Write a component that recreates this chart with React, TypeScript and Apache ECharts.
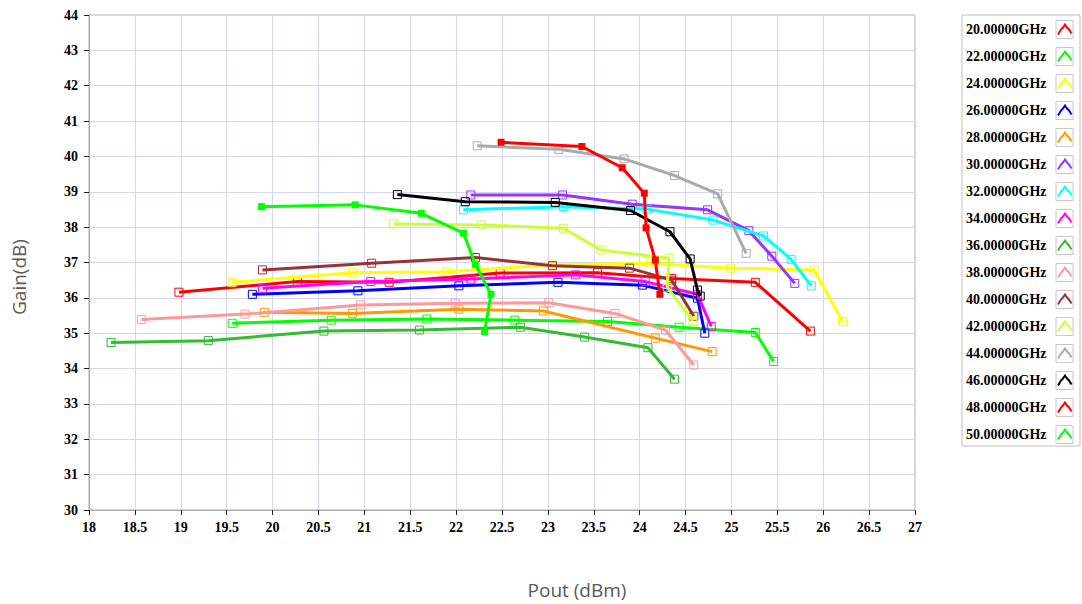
import React, { useEffect, useRef } from "react";
import * as echarts from "echarts";

const freqLabels = [
  "20.00000GHz", "22.00000GHz", "24.00000GHz", "26.00000GHz",
  "28.00000GHz", "30.00000GHz", "32.00000GHz", "34.00000GHz",
  "36.00000GHz", "38.00000GHz", "40.00000GHz", "42.00000GHz",
  "44.00000GHz", "46.00000GHz", "48.00000GHz", "50.00000GHz",
];
const colors = [
  "#ff0000", "#00ff00", "#ffff00", "#0000ff",
  "#ff9900", "#9933ff", "#00ffff", "#ff00ff",
  "#33bb33", "#ff9999", "#993333", "#ccff33",
  "#aaaaaa", "#000000", "#ff0000", "#00ff00",
];
const filled = [false, false, false, false, false, false, false, false, false, false, false, false, false, false, true, true];

const pout20 = [18.98, 20.27, 21.27, 22.48, 23.54, 24.35, 25.26, 25.86];
const gain20 = [36.16, 36.46, 36.44, 36.70, 36.71, 36.55, 36.44, 35.06];
const pout22 = [19.56, 20.64, 21.68, 22.64, 23.65, 24.43, 25.26, 25.46];
const gain22 = [35.28, 35.37, 35.40, 35.37, 35.33, 35.17, 35.02, 34.20];
const pout24 = [19.56, 20.87, 21.90, 23.05, 24.12, 24.99, 25.90, 26.21];
const gain24 = [36.44, 36.71, 36.74, 36.93, 36.98, 36.84, 36.79, 35.33];
const pout26 = [19.78, 20.93, 22.03, 23.11, 24.03, 24.63, 24.71];
const gain26 = [36.10, 36.20, 36.34, 36.44, 36.36, 35.99, 35.00];
const pout28 = [19.91, 20.87, 22.03, 22.95, 24.17, 24.79];
const gain28 = [35.59, 35.56, 35.68, 35.63, 34.86, 34.48];
const pout30 = [22.16, 23.16, 23.92, 24.74, 25.19, 25.44, 25.69];
const gain30 = [38.91, 38.91, 38.65, 38.49, 37.90, 37.18, 36.41];
const pout32 = [22.08, 23.17, 24.08, 24.80, 25.35, 25.65, 25.87];
const gain32 = [38.49, 38.58, 38.51, 38.20, 37.75, 37.09, 36.34];
const pout34 = [19.89, 21.07, 22.16, 23.30, 24.06, 24.63, 24.78];
const gain34 = [36.27, 36.46, 36.53, 36.65, 36.46, 36.10, 35.19];
const pout36 = [18.24, 19.30, 20.56, 21.60, 22.70, 23.40, 24.09, 24.38];
const gain36 = [34.74, 34.79, 35.06, 35.09, 35.17, 34.89, 34.59, 33.70];
const pout38 = [18.57, 19.70, 20.96, 21.99, 23.01, 23.73, 24.28, 24.59];
const gain38 = [35.39, 35.54, 35.80, 35.85, 35.86, 35.56, 35.09, 34.10];
const pout40 = [19.89, 21.08, 22.21, 23.05, 23.89, 24.35, 24.59];
const gain40 = [36.79, 36.98, 37.14, 36.91, 36.84, 36.50, 35.48];
const pout42 = [21.32, 22.28, 23.17, 23.58, 24.32, 24.30, 24.58];
const gain42 = [38.09, 38.06, 37.97, 37.35, 37.12, 36.30, 35.35];
const pout44 = [22.23, 23.12, 23.83, 24.38, 24.85, 25.16];
const gain44 = [40.30, 40.20, 39.93, 39.46, 38.94, 37.26];
const pout46 = [21.36, 22.10, 23.08, 23.90, 24.33, 24.55, 24.63, 24.66];
const gain46 = [38.92, 38.72, 38.70, 38.47, 37.87, 37.10, 36.22, 36.05];
const pout48 = [22.49, 23.37, 23.81, 24.05, 24.07, 24.17, 24.22];
const gain48 = [40.40, 40.28, 39.68, 38.96, 37.98, 37.07, 36.10];
const pout50 = [19.88, 20.90, 21.62, 22.08, 22.21, 22.38, 22.31];
const gain50 = [38.58, 38.63, 38.39, 37.83, 36.95, 36.10, 35.04];

const poutSets = [pout20, pout22, pout24, pout26, pout28, pout30, pout32, pout34, pout36, pout38, pout40, pout42, pout44, pout46, pout48, pout50];
const gainSets = [gain20, gain22, gain24, gain26, gain28, gain30, gain32, gain34, gain36, gain38, gain40, gain42, gain44, gain46, gain48, gain50];

const tickFont = {
  fontFamily: "Liberation Serif",
  fontWeight: "bold" as const,
  fontSize: 14,
  color: "#000",
};

export default function App() {
  const ref = useRef<HTMLDivElement>(null);
  useEffect(() => {
    document.body.style.margin = "0";
    const chart = echarts.init(ref.current!, null, { renderer: "svg" });

    const series = freqLabels.map((name, i) => ({
      name,
      type: "line" as const,
      data: poutSets[i].map((x, k) => [x, gainSets[i][k]]),
      symbol: "rect",
      symbolSize: filled[i] ? 7 : 8,
      showSymbol: true,
      lineStyle: { color: colors[i], width: 3 },
      itemStyle: filled[i]
        ? { color: colors[i], borderColor: colors[i], borderWidth: 0 }
        : { color: "transparent", borderColor: colors[i], borderWidth: 1 },
      emphasis: { disabled: true },
      z: 2 + i,
    }));

    const legendItems: any[] = [];
    const lx = 962, ly = 15, lw = 118, lh = 431;
    legendItems.push({
      type: "rect",
      shape: { x: lx, y: ly, width: lw, height: lh },
      style: { fill: "#fff", stroke: "#c0c0c0", lineWidth: 1 },
      z: 10,
    });
    freqLabels.forEach((name, i) => {
      const cy = 29.5 + i * 27;
      legendItems.push({
        type: "text",
        x: 966,
        y: cy,
        style: {
          text: name,
          fontFamily: "Liberation Serif",
          fontWeight: "bold",
          fontSize: 14,
          fill: "#000",
          align: "left",
          verticalAlign: "middle",
        },
        z: 11,
      });
      const bx = 1056, by = cy - 9;
      legendItems.push({
        type: "rect",
        shape: { x: bx, y: by, width: 17, height: 18 },
        style: { fill: "#fff", stroke: "#c8c8c8", lineWidth: 1 },
        z: 11,
      });
      legendItems.push({
        type: "polyline",
        shape: {
          points: [
            [bx + 2, by + 14],
            [bx + 5, by + 9],
            [bx + 7, by + 7],
            [bx + 9, by + 4],
            [bx + 11, by + 7],
            [bx + 13, by + 9],
            [bx + 15.5, by + 13],
          ],
        },
        style: { stroke: colors[i], lineWidth: 2, fill: "none" },
        z: 12,
      });
    });

    const option: any = {
      animation: false,
      backgroundColor: "#fff",
      grid: {
        left: 89,
        right: 167,
        top: 15,
        bottom: 94,
        show: true,
        borderColor: "#a8a8a8",
        borderWidth: 1,
        backgroundColor: "transparent",
      },
      xAxis: {
        type: "value",
        min: 18,
        max: 27,
        interval: 0.5,
        axisLine: { show: true, lineStyle: { color: "#a8a8a8", width: 1 } },
        axisTick: { show: true, length: 5, lineStyle: { color: "#222" } },
        axisLabel: { ...tickFont, margin: 10 },
        splitLine: { show: true, lineStyle: { color: "#d6d6f2", width: 1 } },
      },
      yAxis: {
        type: "value",
        min: 30,
        max: 44,
        interval: 1,
        axisLine: { show: true, lineStyle: { color: "#a8a8a8", width: 1 } },
        axisTick: { show: true, length: 5, lineStyle: { color: "#222" } },
        axisLabel: { ...tickFont, margin: 11 },
        splitLine: { show: true, lineStyle: { color: "#d6d6f2", width: 1 } },
      },
      series,
      graphic: [
        ...legendItems,
        {
          type: "text",
          x: 19,
          y: 277,
          rotation: Math.PI / 2,
          style: {
            text: "Gain(dB)",
            fontFamily: "Open Sans",
            fontSize: 19,
            fill: "#595959",
            align: "center",
            verticalAlign: "middle",
          },
        },
        {
          type: "text",
          x: 577,
          y: 590,
          style: {
            text: "Pout (dBm)",
            fontFamily: "Open Sans",
            fontSize: 19,
            fill: "#595959",
            align: "center",
            verticalAlign: "middle",
          },
        },
      ],
    };
    chart.setOption(option);
    return () => chart.dispose();
  }, []);
  return <div ref={ref} style={{ width: 1082, height: 604 }} />;
}
